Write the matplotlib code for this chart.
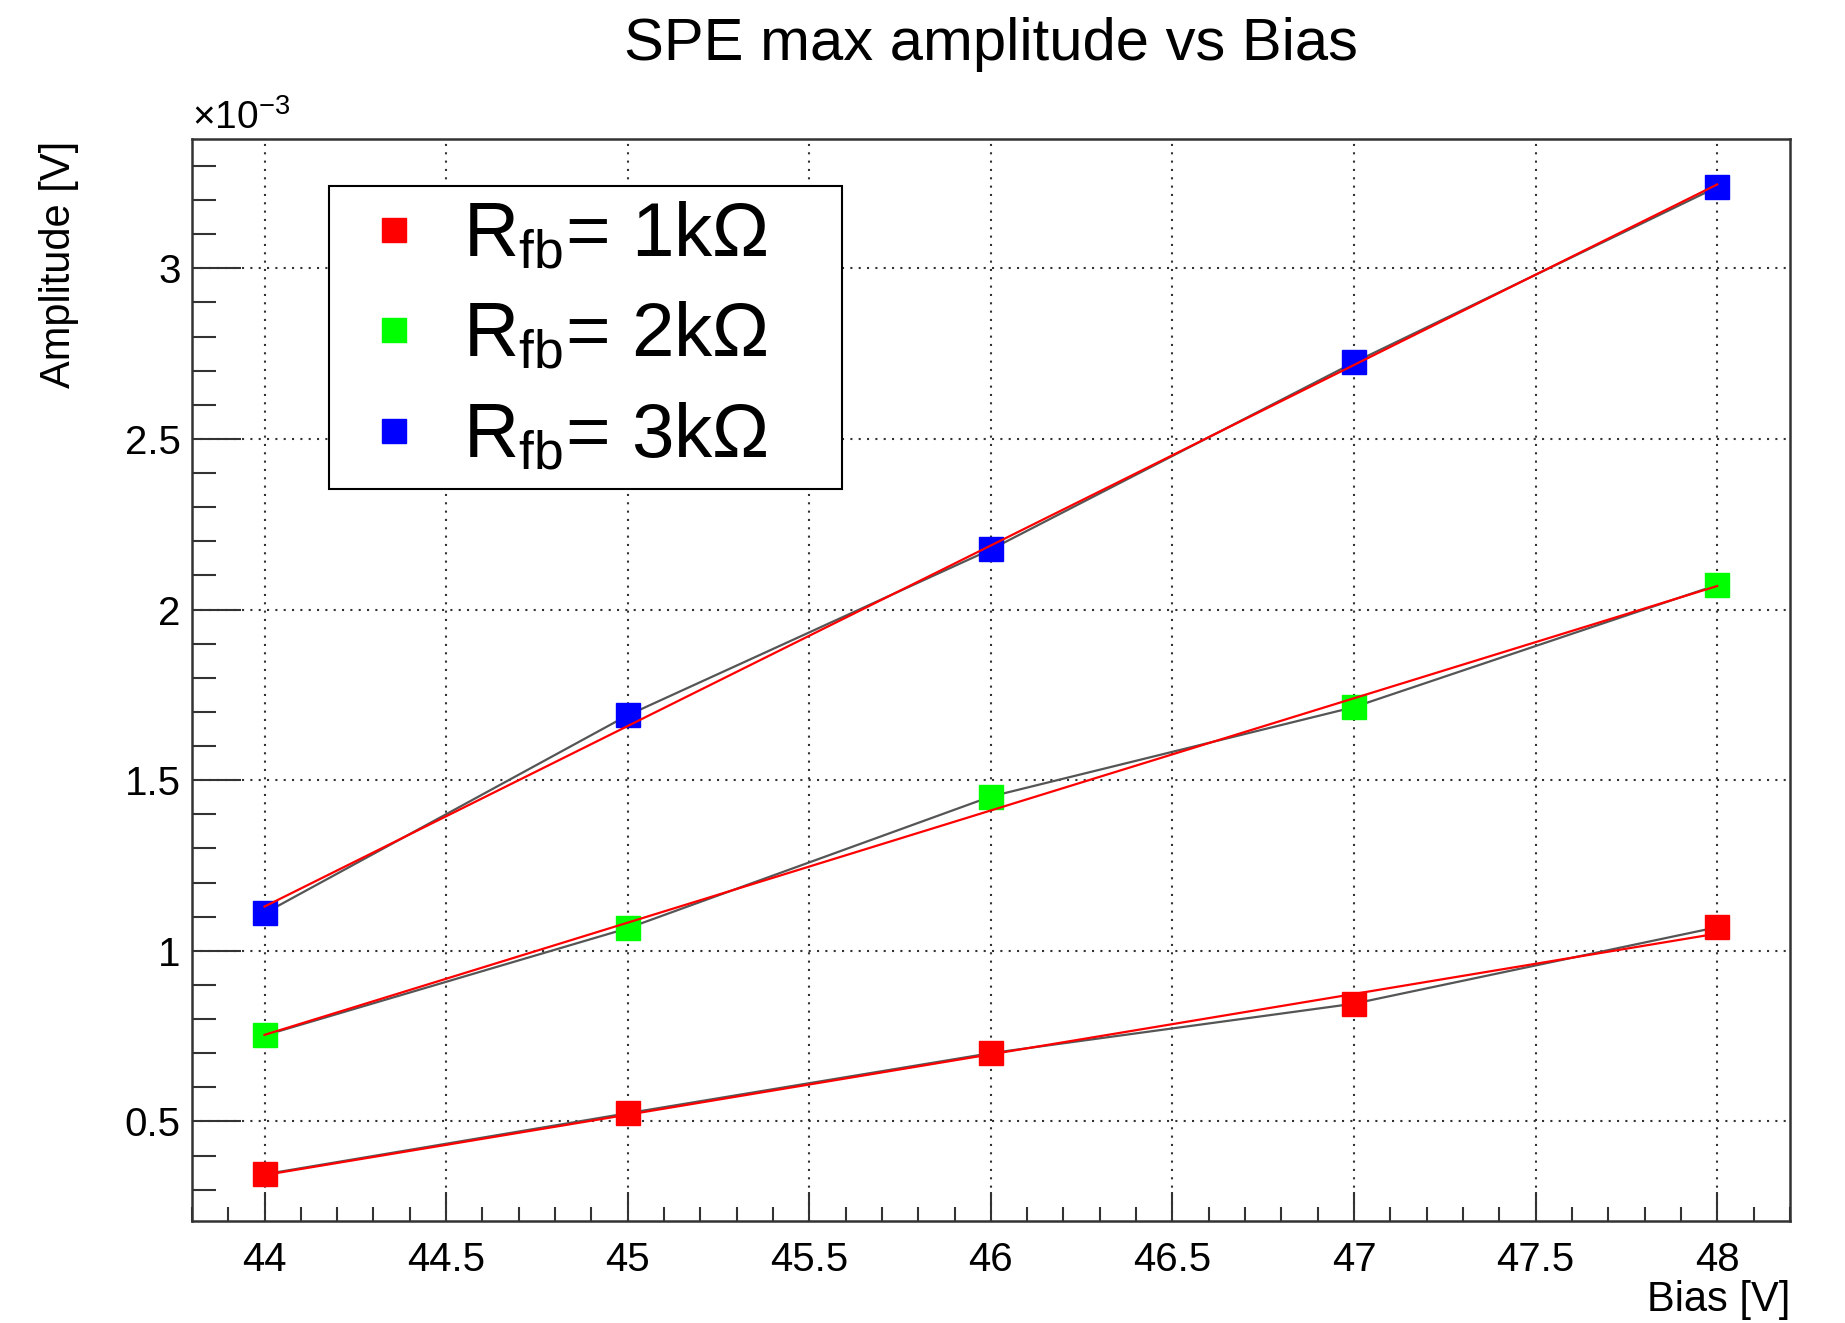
import numpy as np
import matplotlib
matplotlib.use('Agg')
import matplotlib.pyplot as plt
from matplotlib.ticker import MultipleLocator, FuncFormatter

plt.rcParams['font.family'] = ['Liberation Sans', 'DejaVu Sans']
plt.rcParams['mathtext.fontset'] = 'custom'
plt.rcParams['mathtext.rm'] = 'Liberation Sans'
plt.rcParams['mathtext.it'] = 'Liberation Sans:italic'
plt.rcParams['mathtext.bf'] = 'Liberation Sans:bold'

bias = [44, 45, 46, 47, 48]
# amplitudes, in units of 1e-3 V
amp_1k = [0.345, 0.524, 0.700, 0.845, 1.069]
amp_2k = [0.752, 1.066, 1.452, 1.714, 2.072]
amp_3k = [1.110, 1.690, 2.176, 2.724, 3.238]
rfb = ['1k', '2k', '3k']
colors = ['#ff0000', '#00ff00', '#0000ff']

fig = plt.figure(figsize=(18.45, 13.23), dpi=100)
ax = fig.add_axes([0.104, 0.0768, 0.8661, 0.8182])

for amp, r, col in zip([amp_1k, amp_2k, amp_3k], rfb, colors):
    ax.plot(bias, amp, color='#555555', lw=1.6, zorder=2)
    ax.plot(bias, amp, ls='none', marker='s', ms=17, color=col, mec=col,
            zorder=3, label=r'$\mathrm{R}_{\mathrm{fb}}$= ' + r + 'Ω')
    # linear fit drawn on top, like the ROOT fit function
    p = np.polyfit(bias, amp, 1)
    xf = np.linspace(bias[0], bias[-1], 100)
    ax.plot(xf, np.polyval(p, xf), color='red', lw=1.6, zorder=4)

ax.set_xlim(43.8, 48.2)
ax.set_ylim(0.207, 3.379)

fmt = FuncFormatter(lambda v, pos: '%g' % v)
ax.xaxis.set_major_locator(MultipleLocator(0.5))
ax.xaxis.set_minor_locator(MultipleLocator(0.1))
ax.yaxis.set_major_locator(MultipleLocator(0.5))
ax.yaxis.set_minor_locator(MultipleLocator(0.1))
ax.xaxis.set_major_formatter(fmt)
ax.yaxis.set_major_formatter(fmt)

ax.tick_params(which='both', direction='in', top=False, right=False,
               labelsize=29, width=1.5, color='#333333')
ax.tick_params(axis='x', which='major', length=21, pad=14)
ax.tick_params(axis='x', which='minor', length=10)
ax.tick_params(axis='y', which='major', length=35, pad=8)
ax.tick_params(axis='y', which='minor', length=17)

ax.grid(True, which='major', ls=(0, (1, 3)), color='#333333', lw=1.5)
for s in ax.spines.values():
    s.set_linewidth(1.8)
    s.set_color('#333333')

leg = ax.legend(loc='upper left', bbox_to_anchor=(0.0859, 0.6794, 0.3210, 0.2771),
                mode='expand', borderaxespad=0,
                fontsize=55, frameon=True, fancybox=False, edgecolor='black',
                framealpha=1, numpoints=1, handlelength=1.3, handletextpad=0.25,
                borderpad=0.2, labelspacing=0.38)
leg.get_frame().set_linewidth(1.5)

fig.text(0.537, 0.966, 'SPE max amplitude vs Bias', fontsize=43, ha='center', va='center')
fig.text(59 / 1845, 1 - 141 / 1323, 'Amplitude [V]', fontsize=30, rotation=90,
         ha='center', va='top')
fig.text(1790 / 1845, 1 - 1300 / 1323, 'Bias [V]', fontsize=30, ha='right', va='center')
fig.text(0.104, 1 - 118 / 1323, r'$\times10^{-3}$', fontsize=28, ha='left', va='center')

fig.savefig('out.png', dpi=100)
